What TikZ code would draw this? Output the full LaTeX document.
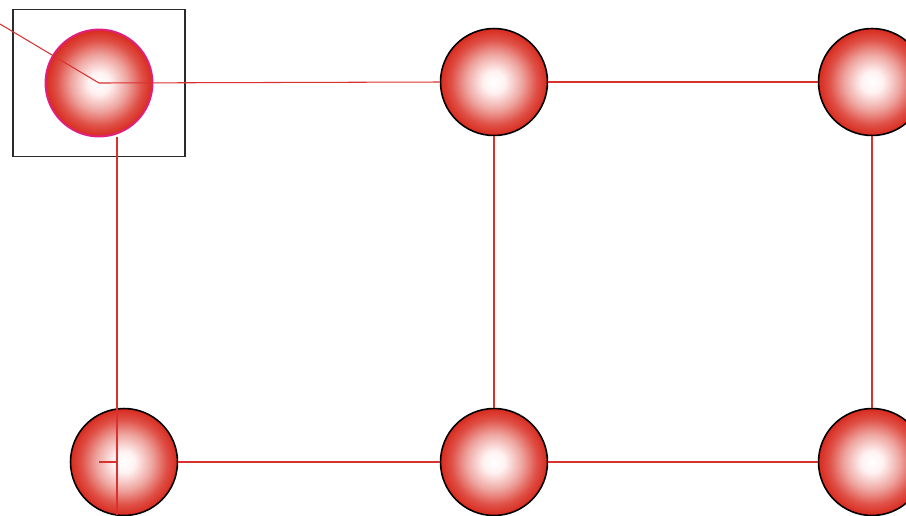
\documentclass[tikz,border=0pt]{standalone}
\usepackage{tikz}
\usetikzlibrary{positioning, calc}
\definecolor{cEdge}{HTML}{D82A1E}
\definecolor{cLine}{HTML}{D93030}
\definecolor{cRim}{HTML}{E0207F}
\definecolor{cFrame}{HTML}{2B2B2B}
\pgfdeclareradialshading{redball}{\pgfpoint{0bp}{0bp}}{%
  color(0bp)=(white); color(5bp)=(white!95!red); color(13bp)=(cEdge!42);
  color(20bp)=(cEdge!82); color(25bp)=(cEdge); color(50bp)=(cEdge)}
\tikzset{
  ball/.style={
    circle, minimum size=2.14cm, inner sep=0pt, shading=redball,
    draw=black, line width=0.9pt
  },
  fball/.style={ball, draw=cRim, line width=1.1pt},
  link/.style={draw=cLine, line width=0.6pt},
  frame/.style={draw=cFrame, line width=1pt, minimum width=3.44cm,
    minimum height=2.94cm, inner sep=0pt},
}

\begin{document}
\begin{tikzpicture}[x=0.02cm, y=-0.02cm]
  \clip (0,0) rectangle (906,515);
  \useasboundingbox (0,0) rectangle (906,515);

  % top row
  \node[fball] (b1) at (99,83)  {};
  \node[ball]  (b2) at (494,82) {};
  \node[ball]  (b3) at (872,82) {};

  % bottom row
  \node[ball] (b4) at (124,462) {};
  \node[ball] (b5) at (494,462) {};
  \node[ball] (b6) at (872,462) {};

  % frame round the first ball
  \node[frame] (frame) at (b1) {};

  % free ends
  \coordinate (lead) at (0,24);
  \coordinate (drop) at (117,515);
  \coordinate (tick) at (99,462);

  % links
  \draw[link] (lead) -- (b1.center) -- (b2.west);
  \draw[link] (b2.east) -- (b3.west);
  \draw[link] (drop |- b1.south) -- (drop);
  \draw[link] (tick) -- (tick -| drop);
  \draw[link] (b4.east) -- (b5.west);
  \draw[link] (b5.east) -- (b6.west);
  \draw[link] (b2.south) -- (b5.north);
  \draw[link] (b3.south) -- (b6.north);

\end{tikzpicture}
\end{document}
